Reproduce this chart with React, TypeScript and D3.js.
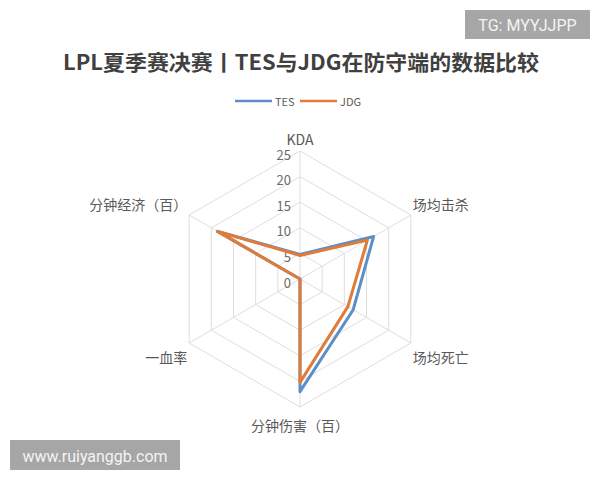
import { useEffect, useRef } from 'react';
import * as d3 from 'd3';

// Axes, clockwise from the top
const AXES = ['KDA', '场均击杀', '场均死亡', '分钟伤害（百）', '一血率', '分钟经济（百）'];
const TES_VALUES = [4.8, 16.6, 12.0, 22.0, 0, 18.6];
const JDG_VALUES = [4.6, 15.2, 10.8, 20.2, 0, 18.6];
const TICKS = [0, 5, 10, 15, 20, 25];

const SERIES = [
  { name: 'TES', color: '#5b8fc7', values: TES_VALUES },
  { name: 'JDG', color: '#e07b39', values: JDG_VALUES },
];

const width = 600;
const height = 480;
const cx = 300;
const cy = 279;
const radius = 128;

export default function App() {
  const svgRef = useRef<SVGSVGElement>(null);

  useEffect(() => {
    if (!svgRef.current) return;
    const svg = d3.select(svgRef.current);
    svg.selectAll('*').remove();

    const r = d3.scaleLinear().domain([0, 25]).range([0, radius]);
    const angle = d3.scaleLinear().domain([0, AXES.length]).range([0, 2 * Math.PI]);
    const pt = (i: number, v: number): [number, number] => {
      const a = angle(i);
      return [cx + r(v) * Math.sin(a), cy - r(v) * Math.cos(a)];
    };

    svg.append('rect').attr('width', width).attr('height', height).attr('fill', '#fff');

    // Title
    svg.append('text')
      .attr('x', 301)
      .attr('y', 61)
      .attr('text-anchor', 'middle')
      .attr('dominant-baseline', 'central')
      .attr('font-family', '"Noto Sans CJK SC", sans-serif')
      .attr('font-size', 21)
      .attr('font-weight', 'bold')
      .attr('fill', '#404040')
      .attr('textLength', 476)
      .attr('lengthAdjust', 'spacingAndGlyphs')
      .text('LPL夏季赛决赛丨TES与JDG在防守端的数据比较');

    // Legend
    const legendX = [235, 300];
    SERIES.forEach((s, i) => {
      const lg = svg.append('g').attr('transform', `translate(${legendX[i]}, 101)`);
      lg.append('line').attr('x1', 0).attr('x2', 37).attr('stroke', s.color).attr('stroke-width', 2.5);
      lg.append('text')
        .attr('x', 40)
        .attr('dominant-baseline', 'central')
        .attr('font-family', '"Noto Sans CJK SC", sans-serif')
        .attr('font-size', 11)
        .attr('fill', '#595959')
        .text(s.name);
    });

    const g = svg.append('g');

    // Grid rings
    const ring = d3.line<[number, number]>();
    TICKS.slice(1).forEach((t) => {
      const pts = AXES.map((_, i) => pt(i, t));
      g.append('path')
        .attr('d', ring(pts) + 'Z')
        .attr('fill', 'none')
        .attr('stroke', '#dedede')
        .attr('stroke-width', 1);
    });

    // Spokes
    AXES.forEach((_, i) => {
      const [x, y] = pt(i, 25);
      g.append('line')
        .attr('x1', cx).attr('y1', cy).attr('x2', x).attr('y2', y)
        .attr('stroke', '#dedede').attr('stroke-width', 1);
    });

    // Tick labels
    TICKS.forEach((t) => {
      g.append('text')
        .attr('x', cx - 9)
        .attr('y', cy - r(t) + 3)
        .attr('text-anchor', 'end')
        .attr('dominant-baseline', 'central')
        .attr('font-family', '"Noto Sans CJK SC", sans-serif')
        .attr('font-size', 13)
        .attr('fill', '#6b6b6b')
        .text(t);
    });

    // Axis labels
    const labelOffsets: [number, number, string][] = [
      [0, -12, 'middle'],
      [2, 0, 'start'],
      [2, 0, 'start'],
      [0, 18, 'middle'],
      [-2, 0, 'end'],
      [-2, 0, 'end'],
    ];
    AXES.forEach((name, i) => {
      const [x, y] = pt(i, 25);
      const [dx, dy, anchor] = labelOffsets[i];
      g.append('text')
        .attr('x', x + dx)
        .attr('y', y + dy + (i === 1 ? -11 : i === 2 ? 14 : i === 4 ? 14 : i === 5 ? -11 : 0))
        .attr('text-anchor', anchor)
        .attr('dominant-baseline', 'central')
        .attr('font-family', '"Noto Sans CJK SC", sans-serif')
        .attr('font-size', 14)
        .attr('fill', '#595959')
        .text(name);
    });

    // Series
    const radar = d3.lineRadial<number>()
      .angle((_, i) => angle(i))
      .radius((d) => r(d))
      .curve(d3.curveLinearClosed);
    SERIES.forEach((s) => {
      g.append('path')
        .attr('transform', `translate(${cx}, ${cy})`)
        .attr('d', radar(s.values))
        .attr('fill', 'none')
        .attr('stroke', s.color)
        .attr('stroke-width', 3)
        .attr('stroke-linejoin', 'round');
    });

    // Watermarks
    const marks = [
      { x: 465, y: 10, w: 125, h: 29, text: 'TG: MYYJJPP' },
      { x: 10, y: 440, w: 170, h: 30, text: 'www.ruiyanggb.com' },
    ];
    marks.forEach((m) => {
      svg.append('rect').attr('x', m.x).attr('y', m.y).attr('width', m.w).attr('height', m.h).attr('fill', '#a6a6a6');
      svg.append('text')
        .attr('x', m.x + m.w / 2)
        .attr('y', m.y + m.h / 2 + 1)
        .attr('text-anchor', 'middle')
        .attr('dominant-baseline', 'central')
        .attr('font-family', 'Roboto, "Liberation Sans", sans-serif')
        .attr('font-size', 16)
        .attr('fill', '#f4f4f4')
        .text(m.text);
    });
  }, []);

  return (
    <svg
      ref={svgRef}
      width={width}
      height={height}
      style={{ position: 'absolute', left: 0, top: 0 }}
    />
  );
}
